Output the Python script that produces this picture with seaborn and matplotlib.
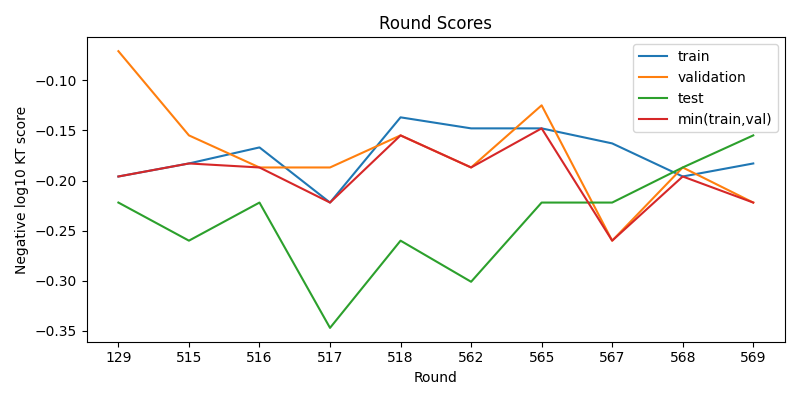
import pandas as pd
import matplotlib
matplotlib.use("Agg")
import matplotlib.pyplot as plt
import seaborn as sns

rounds = ["129", "515", "516", "517", "518", "562", "565", "567", "568", "569"]
train = [-0.196, -0.183, -0.167, -0.222, -0.137, -0.148, -0.148, -0.163, -0.196, -0.183]
validation = [-0.071, -0.155, -0.187, -0.187, -0.155, -0.187, -0.125, -0.260, -0.187, -0.222]
test = [-0.222, -0.260, -0.222, -0.347, -0.260, -0.301, -0.222, -0.222, -0.187, -0.155]
min_train_val = [-0.196, -0.183, -0.187, -0.222, -0.155, -0.187, -0.148, -0.260, -0.196, -0.222]

df = pd.DataFrame({
    "Round": rounds,
    "train": train,
    "validation": validation,
    "test": test,
    "min(train,val)": min_train_val,
})
long_df = df.melt(id_vars="Round", var_name="series", value_name="score")

fig, ax = plt.subplots(figsize=(8, 4), dpi=100)
sns.lineplot(data=long_df, x="Round", y="score", hue="series", sort=False,
             palette=["#1f77b4", "#ff7f0e", "#2ca02c", "#d62728"], ax=ax)
ax.set_title("Round Scores")
ax.set_xlabel("Round")
ax.set_ylabel("Negative log10 KT score")
ax.legend(loc="upper right")
plt.tight_layout()
plt.savefig("out.png")
